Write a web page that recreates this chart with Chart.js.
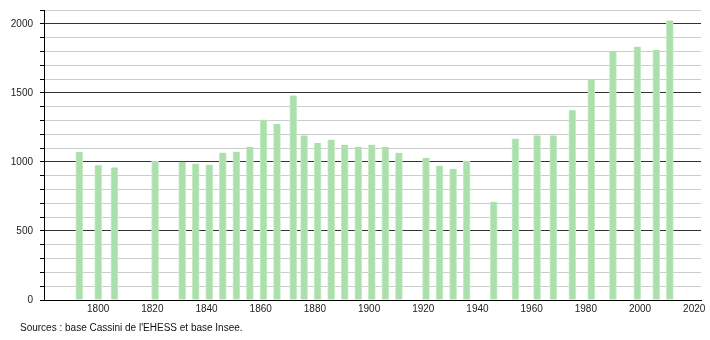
<!DOCTYPE html>
<html>
<head>
<meta charset="utf-8">
<script src="https://cdn.jsdelivr.net/npm/chart.js@4/dist/chart.umd.min.js"></script>
<style>
  html, body { margin: 0; padding: 0; background: #fff; }
  #wrap { position: relative; width: 710px; height: 340px; }
  #src { position: absolute; left: 20px; top: 322px; font: 10px "Liberation Sans", Arial, sans-serif; color: #111; white-space: nowrap; }
</style>
</head>
<body>
<div id="wrap">
  <canvas id="c" width="710" height="340"></canvas>
  <div id="src">Sources : base Cassini de l'EHESS et base Insee.</div>
</div>
<script>
const years = [1793, 1800, 1806, 1821, 1831, 1836, 1841, 1846, 1851, 1856, 1861, 1866, 1872, 1876, 1881, 1886, 1891, 1896, 1901, 1906, 1911, 1921, 1926, 1931, 1936, 1946, 1954, 1962, 1968, 1975, 1982, 1990, 1999, 2006, 2011];
const population = [1072, 975, 960, 1006, 1001, 987, 980, 1067, 1074, 1110, 1306, 1275, 1480, 1192, 1137, 1161, 1125, 1110, 1125, 1110, 1066, 1030, 972, 950, 1008, 711, 1168, 1192, 1192, 1374, 1596, 1797, 1833, 1811, 2024];
const xTickLabels = [1800, 1820, 1840, 1860, 1880, 1900, 1920, 1940, 1960, 1980, 2000, 2020];
const yTickLabels = [0, 500, 1000, 1500, 2000];

const points = years.map((y, i) => ({ x: y, y: population[i] }));
const font = { family: '"Liberation Sans", Arial, sans-serif', size: 10 };

new Chart(document.getElementById('c'), {
  type: 'bar',
  data: {
    datasets: [{
      data: points,
      backgroundColor: '#abdfab',
      borderColor: '#c8ecc8',
      borderWidth: { left: 1, right: 1, top: 0, bottom: 0 },
      borderSkipped: false,
      barThickness: 7
    }]
  },
  options: {
    responsive: false,
    animation: false,
    layout: { padding: { top: 10, right: 9, left: 0, bottom: 0 } },
    plugins: { legend: { display: false }, tooltip: { enabled: false } },
    scales: {
      x: {
        type: 'linear',
        min: 1780,
        max: 2022.5,
        offset: false,
        grid: { display: false, drawTicks: false, tickLength: 0 },
        border: { display: true, color: '#000', width: 1 },
        ticks: {
          color: '#222',
          font: font,
          padding: 3,
          maxRotation: 0,
          autoSkip: false,
          callback: (v) => String(v)
        },
        afterBuildTicks: (s) => { s.ticks = xTickLabels.map(v => ({ value: v })); },
        afterFit: (s) => { s.height = 40; }
      },
      y: {
        min: 0,
        max: 2100,
        grid: {
          color: (ctx) => (ctx.tick && ctx.tick.value % 500 === 0 && ctx.tick.value !== 0) ? '#333' : (ctx.tick && ctx.tick.value === 0 ? '#000' : '#cccccc'),
          tickColor: '#000',
          tickLength: 4,
          lineWidth: 1
        },
        border: { display: true, color: '#000', width: 1 },
        ticks: {
          stepSize: 100,
          color: '#222',
          font: font,
          padding: 7,
          autoSkip: false,
          callback: (v) => yTickLabels.includes(v) ? String(v) : ''
        },
        afterFit: (s) => { s.width = 44; s.paddingTop = 0; s.paddingBottom = 0; }
      }
    }
  }
});
</script>
</body>
</html>
